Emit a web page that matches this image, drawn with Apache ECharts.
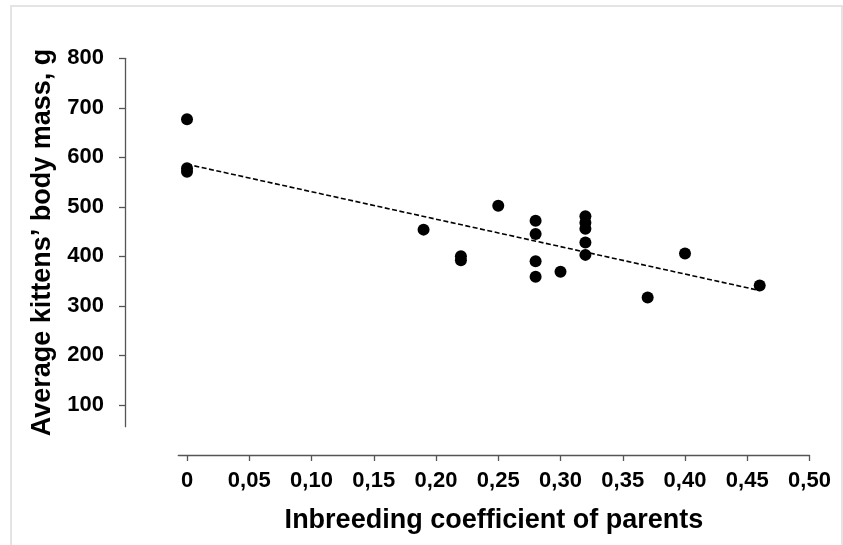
<!DOCTYPE html>
<html>
<head>
<meta charset="utf-8">
<script src="https://cdn.jsdelivr.net/npm/echarts@6/dist/echarts.min.js"></script>
<style>
html,body{margin:0;padding:0;background:#fff;}
#chart{width:843px;height:545px;}
</style>
</head>
<body>
<div id="chart"></div>
<script>
// Inbreeding coefficient (x) and average kittens' body mass (y)
const inbreeding = [0, 0, 0, 0.19, 0.22, 0.22, 0.25, 0.28, 0.28, 0.28, 0.28, 0.30, 0.32, 0.32, 0.32, 0.32, 0.32, 0.37, 0.40, 0.46];
const bodyMass   = [677, 578, 571, 454, 400, 392, 502, 472, 445, 390, 359, 369, 481, 468, 456, 428, 403, 317, 406, 341];
// Trend line endpoints as drawn
const trendX = [0, 0.46];
const trendY = [586, 331];
// Tick labels
const xTicks = [0, 0.05, 0.10, 0.15, 0.20, 0.25, 0.30, 0.35, 0.40, 0.45, 0.50];
const yTicks = [100, 200, 300, 400, 500, 600, 700, 800];

const points = inbreeding.map((x, i) => [x, bodyMass[i]]);
const trend = trendX.map((x, i) => [x, trendY[i]]);
const FONT = 'Liberation Sans, Arial, sans-serif';
const AXIS = '#555';

const chart = echarts.init(document.getElementById('chart'), null, {renderer: 'canvas'});
chart.setOption({
  backgroundColor: '#fff',
  animation: false,
  graphic: [{
    type: 'rect', silent: true,
    shape: {x: 11, y: 6, width: 831, height: 600},
    style: {fill: 'none', stroke: '#e4e4e4', lineWidth: 2}
  }],
  grid: {left: 178.3, right: 33.5, top: 58.3, bottom: 118.3, containLabel: false},
  xAxis: {
    type: 'value', min: -0.007, max: 0.5, offset: 28.3,
    name: 'Inbreeding coefficient of parents',
    nameLocation: 'middle', nameGap: 52,
    nameTextStyle: {fontFamily: FONT, fontWeight: 'bold', fontSize: 27, color: '#000'},
    axisLine: {show: true, onZero: false, lineStyle: {color: AXIS, width: 1.3}},
    axisTick: {show: true, length: 6, lineStyle: {color: AXIS, width: 1.3}, customValues: xTicks},
    axisLabel: {
      show: true, margin: 15, customValues: xTicks,
      fontFamily: FONT, fontWeight: 'bold', fontSize: 22, color: '#000',
      formatter: v => v === 0 ? '0' : v.toFixed(2).replace('.', ',')
    },
    splitLine: {show: false}
  },
  yAxis: {
    type: 'value', min: 56, max: 800, offset: 53.3,
    name: 'Average kittens\u2019 body mass, g',
    nameLocation: 'middle', nameGap: 54, nameRotate: 90,
    nameTextStyle: {fontFamily: FONT, fontWeight: 'bold', fontSize: 27, color: '#000'},
    axisLine: {show: true, onZero: false, lineStyle: {color: AXIS, width: 1.3}},
    axisTick: {show: true, length: 6, lineStyle: {color: AXIS, width: 1.3}, customValues: yTicks},
    axisLabel: {
      show: true, margin: 21, customValues: yTicks,
      fontFamily: FONT, fontWeight: 'bold', fontSize: 22, color: '#000'
    },
    splitLine: {show: false}
  },
  series: [
    {
      type: 'line', data: trend, symbol: 'none', silent: true, z: 1,
      lineStyle: {color: '#000', width: 1.6, type: [5, 2.5]}
    },
    {
      type: 'scatter', data: points, symbol: 'circle', symbolSize: 12, z: 2,
      itemStyle: {color: '#000', opacity: 1}
    }
  ]
});
</script>
</body>
</html>
